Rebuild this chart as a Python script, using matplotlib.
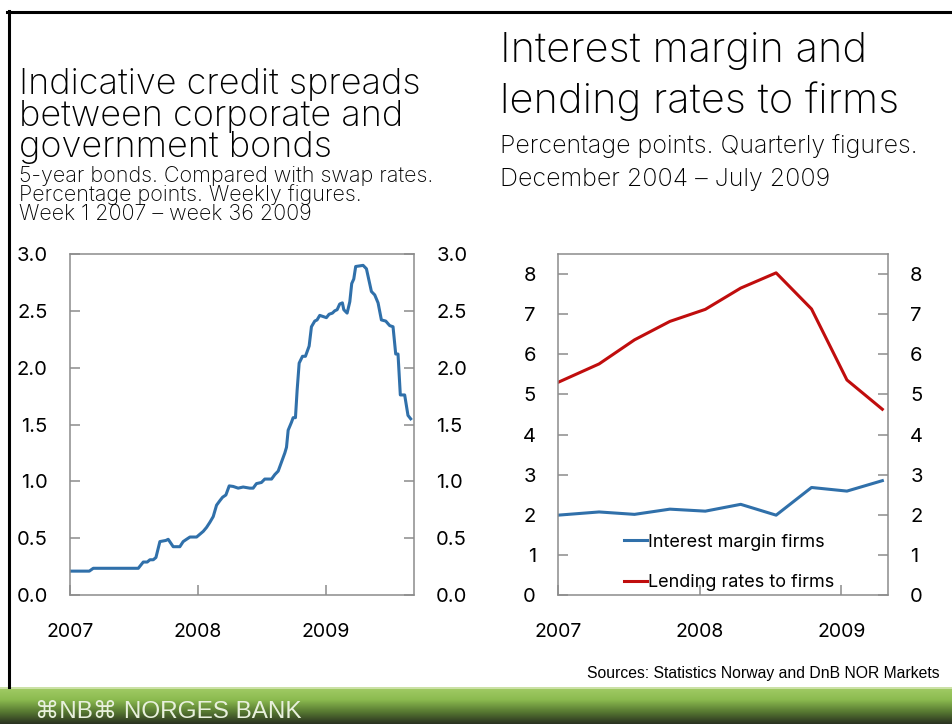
import matplotlib.pyplot as plt
import numpy as np
from matplotlib.lines import Line2D
from matplotlib.colors import LinearSegmentedColormap

W, H = 952, 724

# credit spreads, traced points (decimal year, percentage points)
spread_dates = [2007.000, 2007.151, 2007.182, 2007.534, 2007.573, 2007.604, 2007.625, 2007.651,
                2007.672, 2007.703, 2007.750, 2007.768, 2007.807, 2007.859, 2007.885, 2007.911,
                2007.938, 2007.990, 2008.042, 2008.068, 2008.094, 2008.120, 2008.146, 2008.172,
                2008.193, 2008.219, 2008.245, 2008.276, 2008.315, 2008.354, 2008.406, 2008.432,
                2008.458, 2008.497, 2008.523, 2008.576, 2008.602, 2008.628, 2008.654, 2008.680,
                2008.693, 2008.706, 2008.732, 2008.745, 2008.763, 2008.776, 2008.792, 2008.818,
                2008.841, 2008.870, 2008.888, 2008.914, 2008.932, 2008.953, 2009.005, 2009.026,
                2009.052, 2009.070, 2009.089, 2009.109, 2009.130, 2009.141, 2009.167, 2009.188,
                2009.203, 2009.219, 2009.234, 2009.292, 2009.318, 2009.357, 2009.383, 2009.409,
                2009.435, 2009.469, 2009.500, 2009.526, 2009.547, 2009.565, 2009.583, 2009.617,
                2009.643, 2009.664]
spread_values = [0.21, 0.21, 0.235, 0.235, 0.29, 0.29, 0.31, 0.31,
                 0.33, 0.47, 0.48, 0.49, 0.425, 0.425, 0.47, 0.49,
                 0.51, 0.51, 0.56, 0.595, 0.64, 0.69, 0.79, 0.83,
                 0.86, 0.88, 0.96, 0.955, 0.94, 0.95, 0.94, 0.94,
                 0.98, 0.99, 1.02, 1.02, 1.06, 1.09, 1.17, 1.25,
                 1.30, 1.45, 1.52, 1.56, 1.56, 1.80, 2.04, 2.10,
                 2.10, 2.19, 2.36, 2.41, 2.42, 2.46, 2.44, 2.47,
                 2.48, 2.50, 2.51, 2.56, 2.57, 2.51, 2.48, 2.58,
                 2.74, 2.78, 2.89, 2.90, 2.87, 2.67, 2.64, 2.57,
                 2.42, 2.41, 2.37, 2.36, 2.12, 2.12, 1.76, 1.76,
                 1.58, 1.55]

# quarterly figures
quarter_dates = [2007.0, 2007.29, 2007.54, 2007.79, 2008.04, 2008.29, 2008.54, 2008.79, 2009.04, 2009.29]
margin_firms = [1.99, 2.07, 2.01, 2.14, 2.09, 2.26, 1.99, 2.68, 2.59, 2.85]
lending_rates = [5.30, 5.76, 6.36, 6.82, 7.12, 7.65, 8.03, 7.13, 5.36, 4.63]

years = [2007, 2008, 2009]
BLUE = '#3070AA'
RED = '#C00D0D'
SPINE = '#8c8c8c'

plt.rcParams['font.family'] = ['Inter', 'DejaVu Sans']
plt.rcParams['font.weight'] = 'normal'


def px(x, y):
    return x / W, 1 - y / H


def style_axes(ax, ticks, fmt):
    for s in ax.spines.values():
        s.set_color(SPINE)
        s.set_linewidth(1.1)
    ax.set_xticks(years)
    ax.set_yticks(ticks)
    ax.set_yticklabels([fmt % t for t in ticks])
    ax.tick_params(axis='y', direction='in', length=7, color=SPINE, width=1.1,
                   left=True, right=True, labelleft=True, labelright=True,
                   labelsize=14.5, pad=16)
    ax.tick_params(axis='x', direction='in', length=7, color=SPINE, width=1.1,
                   labelsize=14, pad=20)


fig = plt.figure(figsize=(W / 100, H / 100), dpi=100)

# left chart
ax1 = fig.add_axes([70 / W, 1 - 595 / H, 344 / W, 341 / H])
ax1.plot(spread_dates, spread_values, color=BLUE, lw=2.2)
ax1.set_xlim(2007.0, 2009.69)
ax1.set_ylim(0, 3.0)
style_axes(ax1, np.arange(0, 3.01, 0.5), '%.1f')

# right chart
ax2 = fig.add_axes([558 / W, 1 - 595 / H, 330 / W, 341 / H])
ax2.plot(quarter_dates, margin_firms, color=BLUE, lw=2.2, label='Interest margin firms')
ax2.plot(quarter_dates, lending_rates, color=RED, lw=2.2, label='Lending rates to firms')
ax2.set_xlim(2007.0, 2009.33)
ax2.set_ylim(0, 8.5)
style_axes(ax2, range(0, 9), '%d')
ax2.legend(loc='upper left', bbox_to_anchor=(0.2, 0.18), frameon=False, fontsize=13,
           handlelength=1.3, handletextpad=0.05, labelspacing=1.3, borderpad=0, borderaxespad=0)

# titles
for txt, y in [('Indicative credit spreads', 94), ('between corporate and', 126),
               ('government bonds', 157)]:
    fig.text(*px(19, y), txt, fontsize=26, va='baseline', weight='light')
for txt, y in [('5-year bonds. Compared with swap rates.', 182),
               ('Percentage points. Weekly figures.', 201),
               ('Week 1 2007 \u2013 week 36 2009', 220)]:
    fig.text(*px(19, y), txt, fontsize=15.5, va='baseline', weight='light')
for txt, y in [('Interest margin and', 62), ('lending rates to firms', 113)]:
    fig.text(*px(500, y), txt, fontsize=30, va='baseline', weight='light')
for txt, y in [('Percentage points. Quarterly figures.', 153), ('December 2004 \u2013 July 2009', 186)]:
    fig.text(*px(500, y), txt, fontsize=18, va='baseline', weight='light')

fig.text(*px(940, 678), 'Sources: Statistics Norway and DnB NOR Markets', fontsize=11.3,
         ha='right', va='baseline', family=['Liberation Sans', 'DejaVu Sans'])

# frame lines
fig.add_artist(Line2D([8.5 / W, 8.5 / W], [1 - 11 / H, 1 - 687 / H], color='black', lw=2.2))
fig.add_artist(Line2D([7 / W, 1], [1 - 12 / H, 1 - 12 / H], color='black', lw=2.2))

# footer band
axf = fig.add_axes([0, 0, 1, 37 / H])
cmap = LinearSegmentedColormap.from_list('band', ['#2a3220', '#587a32', '#8cbb50', '#a2cc66'])
axf.imshow(np.linspace(0, 1, 60).reshape(-1, 1), aspect='auto', cmap=cmap,
           origin='lower', extent=[0, 1, 0, 1])
axf.axhline(0.985, color='#d4e6b4', lw=1.2)
axf.set_xlim(0, 1)
axf.set_ylim(0, 1)
axf.axis('off')
fig.text(*px(35, 718), '\u2318NB\u2318 NORGES BANK', fontsize=17.5, color='#e8f0dc',
         va='baseline', family=['Liberation Sans', 'DejaVu Sans'])

fig.savefig('out.png', dpi=100)
